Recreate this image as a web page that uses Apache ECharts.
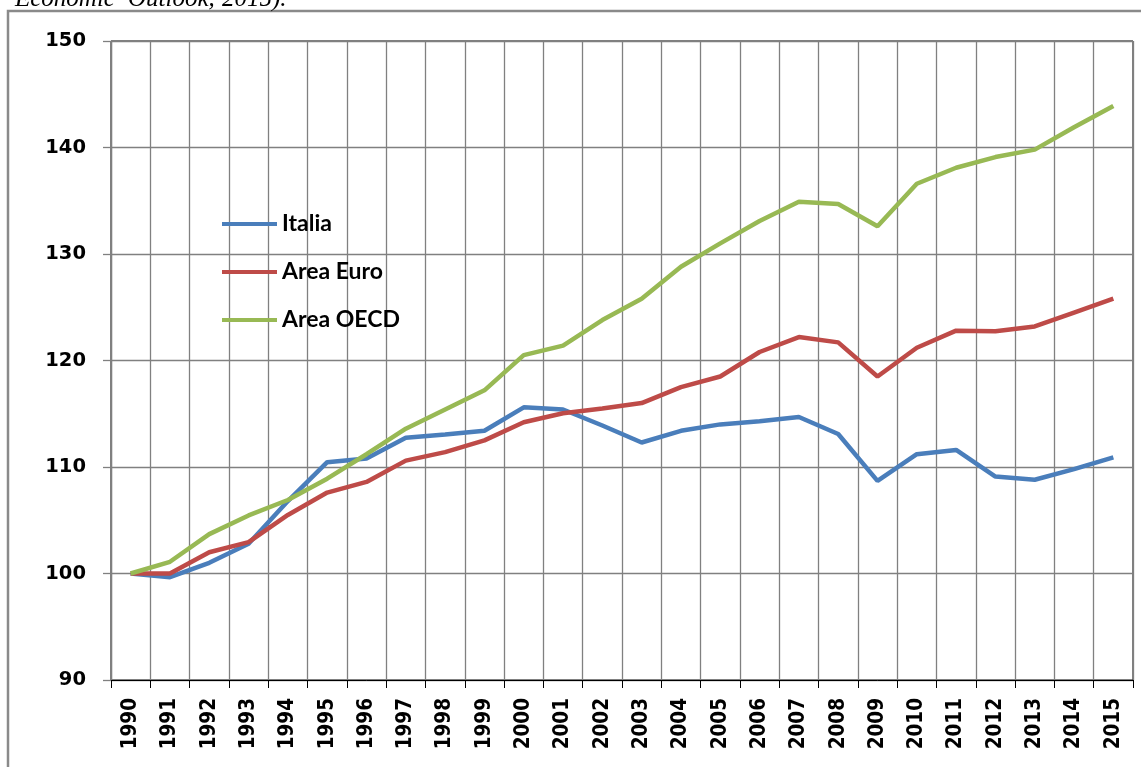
<!DOCTYPE html>
<html>
<head>
<meta charset="utf-8">
<script src="https://cdn.jsdelivr.net/npm/echarts@6/dist/echarts.min.js"></script>
<style>
html,body{margin:0;padding:0;background:#fff;}
#chart{width:1141px;height:767px;}
</style>
</head>
<body>
<div id="chart"></div>
<script>
const years = ['1990','1991','1992','1993','1994','1995','1996','1997','1998','1999','2000','2001','2002','2003','2004','2005','2006','2007','2008','2009','2010','2011','2012','2013','2014','2015'];
const italia = [100,99.65,101.0,102.8,106.8,110.45,110.8,112.75,113.05,113.4,115.6,115.4,113.9,112.3,113.4,114.0,114.3,114.7,113.1,108.7,111.2,111.6,109.1,108.8,109.8,110.9];
const areaEuro = [100,100.0,102.0,102.95,105.5,107.6,108.6,110.6,111.4,112.5,114.2,115.05,115.5,116.0,117.5,118.5,120.8,122.2,121.7,118.5,121.2,122.8,122.75,123.2,124.5,125.8];
const areaOECD = [100,101.1,103.7,105.45,106.9,108.9,111.2,113.6,115.4,117.2,120.5,121.4,123.8,125.8,128.8,131.0,133.1,134.9,134.7,132.6,136.6,138.1,139.1,139.8,141.9,143.9];
const yTicks = {min: 90, max: 150, interval: 10};
const seriesNames = ['Italia','Area Euro','Area OECD'];
const captionWords = [['Economic', 15], ['Outlook,', 128], ['2015).', 222]];

const colors = ['#4a7ebb','#be4b48','#98b954'];
const chart = echarts.init(document.getElementById('chart'), null, {renderer:'canvas'});
const mk = (name, data, c) => ({
  name, type:'line', data, showSymbol:false, symbol:'none', smooth:false,
  lineStyle:{color:c, width:4.5}, itemStyle:{color:c}, z:5, animation:false
});
chart.setOption({
  backgroundColor:'#ffffff',
  animation:false,
  color: colors,
  graphic: [
    {type:'rect', shape:{x:8, y:11, width:1150, height:800}, style:{fill:'none', stroke:'#8a8a8a', lineWidth:2.5}, silent:true},
    ...captionWords.map(w => ({type:'text', x:w[1], y:12, style:{text:w[0], fontStyle:'italic', fontSize:25, fontFamily:'"Liberation Serif", "DejaVu Serif", serif', fill:'#000', verticalAlign:'bottom', align:'left'}, silent:true}))
  ],
  grid:{left:111, right:8, top:41, bottom:87, show:true, borderColor:'#000', borderWidth:1, backgroundColor:'transparent'},
  legend:{
    data: seriesNames, orient:'vertical', left:222, top:212, padding:0, icon:'rect', itemWidth:55, itemHeight:4, itemGap:24,
    textStyle:{fontFamily:'Lato, "Open Sans", sans-serif', fontWeight:'bold', fontSize:23, color:'#000', lineHeight:24}
  },
  xAxis:{
    type:'category', data: years, boundaryGap:true,
    axisLine:{show:true, lineStyle:{color:'#000', width:1}},
    axisTick:{show:true, interval:0, length:8, lineStyle:{color:'#000'}},
    axisLabel:{interval:0, rotate:90, margin:18, color:'#000', fontFamily:'"DejaVu Sans Condensed", "DejaVu Sans", sans-serif', fontWeight:'bold', fontSize:20.5},
    splitLine:{show:true, interval:0, lineStyle:{color:'#808080', width:1.3}}
  },
  yAxis:{
    type:'value', min:yTicks.min, max:yTicks.max, interval:yTicks.interval,
    axisLine:{show:true, lineStyle:{color:'#808080', width:1.3}},
    axisTick:{show:true, length:8, lineStyle:{color:'#808080', width:1.3}},
    axisLabel:{margin:25, color:'#000', fontFamily:'"DejaVu Sans", sans-serif', fontWeight:'bold', fontSize:19.5},
    splitLine:{show:true, lineStyle:{color:'#808080', width:1.3}}
  },
  series:[mk(seriesNames[0], italia, colors[0]), mk(seriesNames[1], areaEuro, colors[1]), mk(seriesNames[2], areaOECD, colors[2])]
});
</script>
</body>
</html>
